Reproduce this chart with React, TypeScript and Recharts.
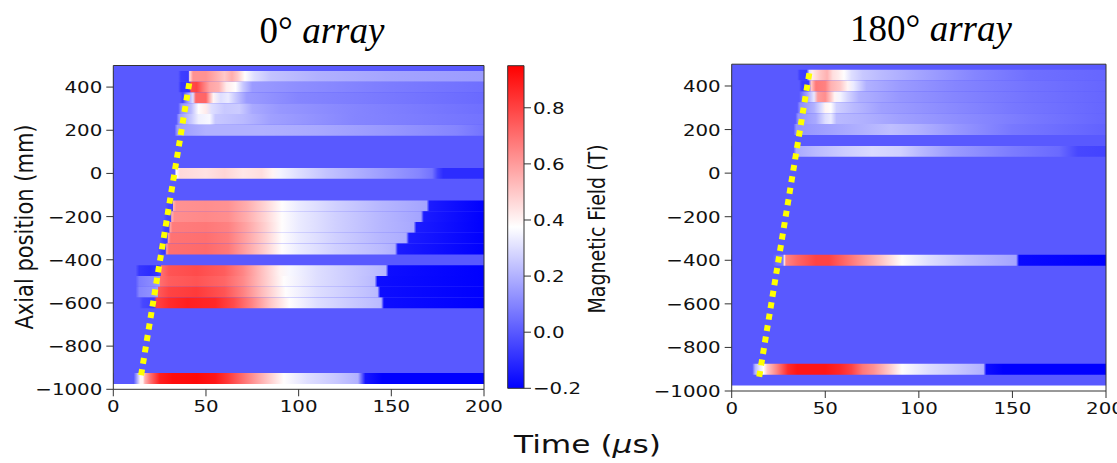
import React from 'react';
import { ComposedChart, Line, XAxis, YAxis, ReferenceArea } from 'recharts';

// axis ticks
const TIME_TICKS = [0, 50, 100, 150, 200];
const POS_TICKS = [-1000, -800, -600, -400, -200, 0, 200, 400];
const FIELD_TICKS = [-0.2, 0.0, 0.2, 0.4, 0.6, 0.8];

const TIME_RANGE = [0, 200];
const POS_RANGE = [-1000, 500];
const FIELD_RANGE = [-0.2, 0.95];

// sensors are 50 mm apart, the last row ends at -975 mm
const ROW_HALF = 25;
const DATA_BOTTOM = -975;

// field keyframes per sensor row: [time (us), field (T)]; unlisted rows stay at 0 T
// 0 deg array
const deg0_450 = [[0, 0], [35, 0], [36.5, -0.06], [40.5, -0.07], [41.2, 0.45], [43, 0.62], [50, 0.62], [56, 0.55], [60, 0.5], [64, 0.56], [67, 0.5], [71, 0.38], [76, 0.3], [85, 0.24], [110, 0.2], [150, 0.17], [200, 0.15]];
const deg0_400 = [[0, 0], [35, 0], [36.5, -0.08], [41, -0.08], [42, 0.78], [45, 0.8], [48, 0.7], [52, 0.58], [57, 0.55], [61, 0.42], [66, 0.38], [70, 0.25], [75, 0.15], [100, 0.12], [150, 0.08], [200, 0.05]];
const deg0_350 = [[0, 0], [36, 0], [37.5, -0.05], [39.5, 0.1], [43, 0.3], [44.5, 0.72], [50, 0.72], [52, 0.55], [54, 0.4], [58, 0.3], [62, 0.33], [66, 0.25], [72, 0.15], [100, 0.1], [150, 0.07], [200, 0.04]];
const deg0_300 = [[0, 0], [35, 0], [36.5, 0.12], [42, 0.22], [46, 0.38], [50, 0.42], [53, 0.3], [60, 0.25], [68, 0.26], [75, 0.18], [90, 0.14], [130, 0.1], [200, 0.05]];
const deg0_250 = [[0, 0], [34, 0], [35.5, 0.15], [42, 0.25], [46, 0.34], [52, 0.36], [55, 0.25], [70, 0.22], [85, 0.16], [130, 0.1], [200, 0.06]];
const deg0_200 = [[0, 0], [33, 0], [34.5, 0.15], [50, 0.2], [80, 0.2], [110, 0.18], [150, 0.14], [185, 0.1], [200, 0.06]];
const deg0_0 = [[0, 0], [33, 0], [34, 0.38], [36, 0.46], [50, 0.44], [60, 0.47], [70, 0.43], [80, 0.45], [86, 0.4], [90, 0.35], [100, 0.3], [115, 0.24], [140, 0.17], [165, 0.1], [172, 0.06], [175, -0.05], [178, -0.1], [200, -0.1]];
const deg0_m150 = [[0, 0], [28, 0], [30, -0.04], [32, -0.05], [32.4, 0.55], [34, 0.62], [50, 0.63], [62, 0.62], [72, 0.56], [82, 0.47], [91, 0.38], [100, 0.33], [120, 0.27], [145, 0.21], [169, 0.17], [170.5, -0.14], [200, -0.2]];
const deg0_m200 = [[0, 0], [27, 0], [29, -0.04], [31, -0.05], [31.5, 0.55], [33, 0.63], [50, 0.64], [62, 0.63], [72, 0.56], [82, 0.47], [91, 0.38], [100, 0.33], [120, 0.27], [145, 0.21], [166, 0.17], [167.5, -0.14], [200, -0.2]];
const deg0_m250 = [[0, 0], [26, 0], [28, -0.05], [30, -0.06], [30.6, 0.58], [32, 0.67], [50, 0.68], [62, 0.66], [72, 0.58], [82, 0.48], [91, 0.38], [100, 0.33], [120, 0.27], [145, 0.21], [162, 0.18], [163.5, -0.14], [200, -0.2]];
const deg0_m300 = [[0, 0], [25, 0], [27, -0.05], [29, -0.07], [29.7, 0.6], [31, 0.69], [50, 0.7], [62, 0.67], [72, 0.58], [82, 0.48], [91, 0.38], [100, 0.33], [120, 0.27], [145, 0.21], [158, 0.19], [159.5, -0.14], [200, -0.2]];
const deg0_m350 = [[0, 0], [24, 0], [26, -0.06], [28, -0.08], [28.8, 0.6], [30, 0.7], [50, 0.71], [62, 0.68], [72, 0.58], [82, 0.48], [91, 0.38], [100, 0.33], [120, 0.27], [145, 0.22], [152, 0.2], [153.5, -0.14], [200, -0.2]];
const deg0_m450 = [[0, 0], [12, 0], [14, -0.08], [20, -0.1], [24, -0.08], [25.5, -0.04], [26, 0.7], [30, 0.76], [45, 0.78], [60, 0.74], [70, 0.65], [80, 0.52], [90, 0.4], [95, 0.36], [110, 0.3], [130, 0.25], [147, 0.21], [148.5, -0.17], [200, -0.2]];
const deg0_m500 = [[0, 0], [12, 0], [14, 0.08], [22, 0.12], [25, 0.15], [25.2, 0.7], [30, 0.74], [45, 0.76], [60, 0.72], [70, 0.64], [80, 0.52], [92, 0.38], [110, 0.3], [130, 0.25], [141, 0.22], [142.5, -0.17], [200, -0.2]];
const deg0_m550 = [[0, 0], [12, 0], [14, 0.1], [22, 0.13], [24, 0.15], [24.3, 0.75], [30, 0.8], [45, 0.82], [60, 0.76], [70, 0.66], [80, 0.53], [93, 0.38], [110, 0.3], [130, 0.25], [142.5, 0.22], [144, -0.17], [200, -0.2]];
const deg0_m600 = [[0, 0], [14, 0], [16, -0.04], [22, -0.06], [23.4, 0.8], [30, 0.85], [40, 0.88], [55, 0.86], [65, 0.78], [75, 0.65], [85, 0.5], [95, 0.38], [110, 0.3], [130, 0.25], [144.5, 0.22], [146, -0.17], [200, -0.2]];
const deg0_m950 = [[0, 0], [11, 0], [12.5, 0.15], [14.5, 0.4], [16, 0.4], [17, 0.55], [20, 0.7], [25, 0.88], [32, 0.92], [45, 0.93], [55, 0.9], [62, 0.82], [70, 0.7], [80, 0.55], [92, 0.38], [105, 0.3], [120, 0.25], [132, 0.2], [136, -0.15], [145, -0.2], [200, -0.2]];

// 180 deg array
const deg180_450 = [[0, 0], [35, 0], [36.5, -0.06], [40, -0.07], [41.5, 0.3], [43, 0.42], [47, 0.5], [51, 0.55], [54, 0.45], [57, 0.42], [60, 0.38], [64, 0.3], [70, 0.25], [80, 0.22], [100, 0.17], [130, 0.1], [160, 0.05], [200, 0.03]];
const deg180_400 = [[0, 0], [36, 0], [37.5, -0.06], [41, -0.07], [42.5, 0.5], [45, 0.68], [50, 0.66], [53, 0.55], [58, 0.5], [62, 0.4], [65, 0.33], [72, 0.2], [90, 0.15], [120, 0.1], [160, 0.06], [200, 0.03]];
const deg180_350 = [[0, 0], [36, 0], [38, 0.08], [41, 0.2], [44, 0.32], [46, 0.6], [50, 0.63], [53, 0.5], [55, 0.4], [58, 0.35], [62, 0.28], [68, 0.2], [90, 0.14], [120, 0.1], [160, 0.06], [200, 0.03]];
const deg180_300 = [[0, 0], [35, 0], [36.5, 0.12], [44, 0.2], [48, 0.3], [50, 0.4], [53, 0.38], [56, 0.27], [65, 0.22], [80, 0.16], [110, 0.12], [150, 0.07], [200, 0.03]];
const deg180_250 = [[0, 0], [34, 0], [35.5, 0.13], [45, 0.18], [50, 0.3], [53, 0.33], [56, 0.22], [70, 0.2], [90, 0.16], [120, 0.12], [160, 0.07], [200, 0.03]];
const deg180_200 = [[0, 0], [33, 0], [34.5, 0.13], [50, 0.16], [70, 0.2], [85, 0.23], [100, 0.2], [120, 0.14], [150, 0.07], [200, 0.02]];
const deg180_100 = [[0, 0], [33, 0], [34.5, 0.18], [45, 0.22], [60, 0.26], [75, 0.29], [90, 0.27], [100, 0.22], [118, 0.15], [150, 0.08], [175, 0.04], [185, -0.04], [200, -0.05]];
const deg180_m400 = [[0, 0], [22, 0], [24, 0.05], [27.5, 0.08], [28, 0.4], [29, 0.65], [35, 0.72], [45, 0.8], [52, 0.8], [62, 0.7], [76, 0.55], [91, 0.38], [105, 0.3], [125, 0.23], [152, 0.17], [153.5, -0.18], [200, -0.2]];
const deg180_m900 = [[0, 0], [11, 0], [12.5, 0.2], [15, 0.32], [17, 0.38], [19, 0.5], [24, 0.65], [30, 0.85], [35, 0.9], [50, 0.9], [58, 0.86], [64, 0.8], [70, 0.68], [76, 0.62], [84, 0.5], [91, 0.38], [105, 0.3], [120, 0.25], [134.5, 0.2], [136, -0.17], [145, -0.2], [200, -0.2]];

// yellow arrival-front markers
const deg0Front = [{ t: 15, pos: -935 }, { t: 41.4, pos: 440 }];
const deg180Front = [{ t: 14.7, pos: -935 }, { t: 41.8, pos: 475 }];

const deg0Rows = [
  { pos: 450, keys: deg0_450 }, { pos: 400, keys: deg0_400 }, { pos: 350, keys: deg0_350 },
  { pos: 300, keys: deg0_300 }, { pos: 250, keys: deg0_250 }, { pos: 200, keys: deg0_200 },
  { pos: 0, keys: deg0_0 }, { pos: -150, keys: deg0_m150 }, { pos: -200, keys: deg0_m200 },
  { pos: -250, keys: deg0_m250 }, { pos: -300, keys: deg0_m300 }, { pos: -350, keys: deg0_m350 },
  { pos: -450, keys: deg0_m450 }, { pos: -500, keys: deg0_m500 }, { pos: -550, keys: deg0_m550 },
  { pos: -600, keys: deg0_m600 }, { pos: -950, keys: deg0_m950 },
];
const deg180Rows = [
  { pos: 450, keys: deg180_450 }, { pos: 400, keys: deg180_400 }, { pos: 350, keys: deg180_350 },
  { pos: 300, keys: deg180_300 }, { pos: 250, keys: deg180_250 }, { pos: 200, keys: deg180_200 },
  { pos: 100, keys: deg180_100 }, { pos: -400, keys: deg180_m400 }, { pos: -900, keys: deg180_m900 },
];

const AXIS = '#333';
const SX = 1.2; // the figure is a bit wider than tall
const TICK_FONT = { fontFamily: 'DejaVu Sans', fontSize: 16.5, fill: '#111' };

// matplotlib 'bwr'
function bwr(v: number) {
  const f = Math.min(1, Math.max(0, (v - FIELD_RANGE[0]) / (FIELD_RANGE[1] - FIELD_RANGE[0])));
  let r = 1, g = 1, b = 1;
  if (f < 0.5) { r = g = 2 * f; } else { g = b = 2 * (1 - f); }
  return `rgb(${Math.round(r * 255)},${Math.round(g * 255)},${Math.round(b * 255)})`;
}

function signed(v: number, digits = 0) {
  const s = Math.abs(v).toFixed(digits);
  return v < 0 ? '\u2212' + s : s;
}

function XTick({ x, y, payload }: any) {
  return (
    <g transform={`translate(${x},${y}) scale(${SX},1)`}>
      <text textAnchor="middle" dy={13.5} {...TICK_FONT}>{signed(payload.value)}</text>
    </g>
  );
}
function YTick({ x, y, payload }: any) {
  return (
    <g transform={`translate(${x},${y}) scale(${SX},1)`}>
      <text textAnchor="end" dy={6} {...TICK_FONT}>{signed(payload.value)}</text>
    </g>
  );
}
function CTick({ x, y, payload }: any) {
  return (
    <g transform={`translate(${x},${y}) scale(${SX},1)`}>
      <text textAnchor="start" dy={6} {...TICK_FONT}>{signed(payload.value, 1)}</text>
    </g>
  );
}

function Gradients({ id, rows }: { id: string; rows: { pos: number; keys: number[][] }[] }) {
  const span = TIME_RANGE[1] - TIME_RANGE[0];
  return (
    <>
      {rows.map((r) => (
        <linearGradient key={r.pos} id={`${id}${r.pos}`} x1="0" y1="0" x2="1" y2="0">
          {r.keys.map(([t, v], i) => (
            <stop key={i} offset={(t - TIME_RANGE[0]) / span} stopColor={bwr(v)} />
          ))}
        </linearGradient>
      ))}
    </>
  );
}

function Panel({ id, rows, front, left, width, margin }: any) {
  return (
    <div style={{ position: 'absolute', left, top: 0 }}>
      <ComposedChart width={width} height={463} data={front} margin={margin}>
        <XAxis dataKey="t" type="number" domain={TIME_RANGE} ticks={TIME_TICKS} allowDataOverflow
          height={30} tickSize={7} tickMargin={2} axisLine={false} tickLine={{ stroke: AXIS }} tick={<XTick />} />
        <YAxis type="number" domain={POS_RANGE} ticks={POS_TICKS} allowDataOverflow
          width={60} tickSize={7} tickMargin={4} axisLine={false} tickLine={{ stroke: AXIS }} tick={<YTick />} />
        <ReferenceArea x1={TIME_RANGE[0]} x2={TIME_RANGE[1]} y1={DATA_BOTTOM} y2={POS_RANGE[1]}
          fill={bwr(0)} fillOpacity={1} stroke="none" />
        {rows.map((r: any) => (
          <ReferenceArea key={r.pos} x1={TIME_RANGE[0]} x2={TIME_RANGE[1]}
            y1={r.pos - ROW_HALF} y2={Math.min(r.pos + ROW_HALF, POS_RANGE[1])}
            fill={`url(#${id}${r.pos})`} fillOpacity={1} stroke="none" />
        ))}
        <ReferenceArea x1={TIME_RANGE[0]} x2={TIME_RANGE[1]} y1={POS_RANGE[0]} y2={POS_RANGE[1]}
          fill="none" stroke={AXIS} strokeWidth={1} />
        <Line dataKey="pos" type="linear" stroke="#ffff00" strokeWidth={6} strokeDasharray="6 5.6"
          dot={false} activeDot={false} isAnimationActive={false} />
      </ComposedChart>
    </div>
  );
}

function Colorbar() {
  const mid = (FIELD_RANGE[1] - 0.375) / (FIELD_RANGE[1] - FIELD_RANGE[0]);
  return (
    <div style={{ position: 'absolute', left: 500, top: 0 }}>
      <ComposedChart width={117} height={463} data={[{ x: 0 }, { x: 1 }]}
        margin={{ top: 65.7, right: 33, bottom: 74.7, left: 7.7 }}>
        <defs>
          <linearGradient id="cbar" x1="0" y1="0" x2="0" y2="1">
            <stop offset={0} stopColor={bwr(FIELD_RANGE[1])} />
            <stop offset={mid} stopColor="#ffffff" />
            <stop offset={1} stopColor={bwr(FIELD_RANGE[0])} />
          </linearGradient>
        </defs>
        <XAxis dataKey="x" type="number" domain={[0, 1]} hide />
        <YAxis orientation="right" type="number" domain={FIELD_RANGE} ticks={FIELD_TICKS} allowDataOverflow
          width={60} tickSize={7} tickMargin={2} axisLine={false} tickLine={{ stroke: AXIS }} tick={<CTick />} />
        <ReferenceArea x1={0} x2={1} y1={FIELD_RANGE[0]} y2={FIELD_RANGE[1]}
          fill="url(#cbar)" fillOpacity={1} stroke={AXIS} strokeWidth={1} />
      </ComposedChart>
    </div>
  );
}

export default function App() {
  return (
    <div style={{ position: 'absolute', left: 0, top: 0, width: 1117, height: 463, background: '#fff', overflow: 'hidden' }}>
      <svg width={0} height={0} style={{ position: 'absolute' }}>
        <defs>
          <Gradients id="g0_" rows={deg0Rows} />
          <Gradients id="g180_" rows={deg180Rows} />
        </defs>
      </svg>
      <Panel id="g0_" rows={deg0Rows} front={deg0Front} left={0} width={507}
        margin={{ top: 65.5, right: 23, bottom: 43.7, left: 53.3 }} />
      <Colorbar />
      <Panel id="g180_" rows={deg180Rows} front={deg180Front} left={617} width={500}
        margin={{ top: 64.2, right: 11, bottom: 42, left: 54.7 }} />
      <svg width={1117} height={463} style={{ position: 'absolute', left: 0, top: 0, pointerEvents: 'none' }}>
        <text x={322} y={43} textAnchor="middle" fontFamily="Liberation Serif" fontSize={37} fill="#000">
          0° <tspan fontStyle="italic">array</tspan>
        </text>
        <text x={931} y={40.5} textAnchor="middle" fontFamily="Liberation Serif" fontSize={37} fill="#000">
          180° <tspan fontStyle="italic">array</tspan>
        </text>
        <text transform={`translate(24,227) scale(${SX},1) rotate(-90)`} textAnchor="middle" dy="0.36em"
          fontFamily="DejaVu Sans" fontSize={21} fill="#111">Axial position (mm)</text>
        <text transform={`translate(597,229) scale(${SX},1) rotate(-90)`} textAnchor="middle" dy="0.36em"
          fontFamily="DejaVu Sans" fontSize={19} fill="#111">Magnetic Field (T)</text>
        <text transform={`translate(587.5,453) scale(1.25,1)`} textAnchor="middle"
          fontFamily="DejaVu Sans" fontSize={25} fill="#111">
          Time (<tspan fontStyle="italic">μ</tspan>s)
        </text>
      </svg>
    </div>
  );
}
